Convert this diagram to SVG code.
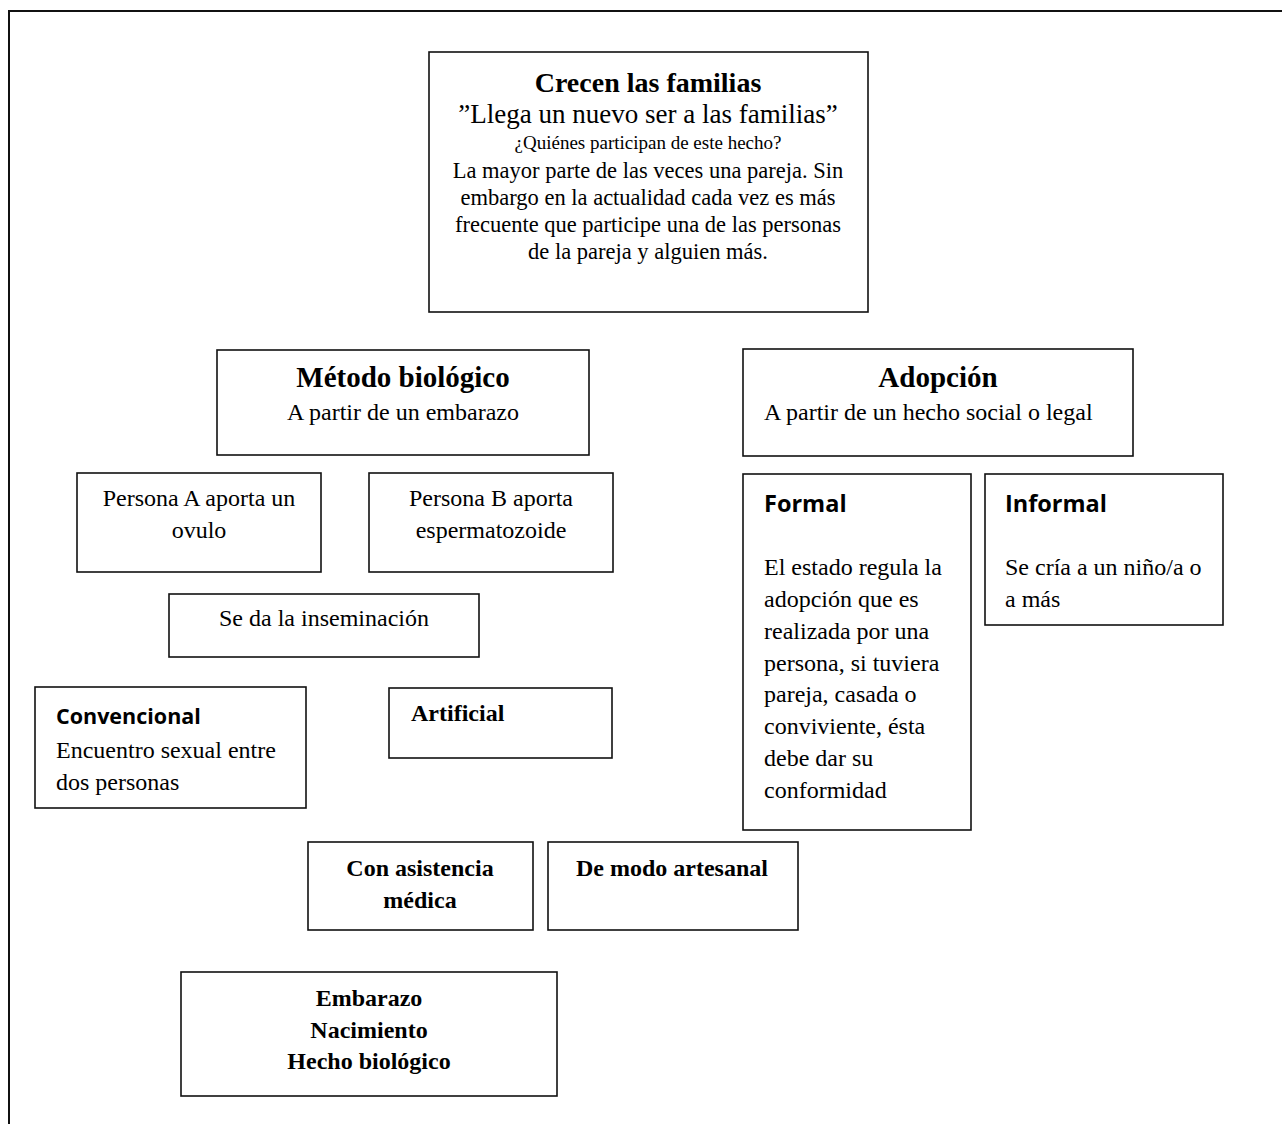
<svg xmlns="http://www.w3.org/2000/svg" width="1282" height="1124" viewBox="0 0 1282 1124">
<style>
.box{fill:#fff;stroke:#111;stroke-width:1.6}
.frame{fill:none;stroke:#111;stroke-width:2}
.t{font-family:"Liberation Serif","Times New Roman",serif;fill:#000;font-size:24px}
.b{font-weight:bold}
.c{text-anchor:middle}
.h{font-size:29px}
.top{font-size:22.5px}
.s{font-family:"Open Sans","Liberation Sans",sans-serif;font-weight:bold;fill:#000;font-size:23.5px}
</style>
<rect width="1282" height="1124" fill="#fff"/>
<g id="frame">
<path class="frame" d="M9 1124 V11 H1282"/>
</g>
<g id="connectors"></g>
<g id="n-crecen">
<rect class="box" x="429" y="52" width="439" height="260"/>
<text class="t b c" x="648" y="92" style="font-size:28px">Crecen las familias</text>
<text class="t c" x="648" y="123" style="font-size:27px">”Llega un nuevo ser a las familias”</text>
<text class="t c" x="648" y="149" style="font-size:19px">¿Quiénes participan de este hecho?</text>
<text class="t c top" x="648" y="178">La mayor parte de las veces una pareja. Sin</text>
<text class="t c top" x="648" y="205">embargo en la actualidad cada vez es más</text>
<text class="t c top" x="648" y="232">frecuente que participe una de las personas</text>
<text class="t c top" x="648" y="259">de la pareja y alguien más.</text>
</g>
<g id="n-metodo">
<rect class="box" x="217" y="350" width="372" height="105"/>
<text class="t b c h" x="403" y="387">Método biológico</text>
<text class="t c" x="403" y="420">A partir de un embarazo</text>
</g>
<g id="n-adopcion">
<rect class="box" x="743" y="349" width="390" height="107"/>
<text class="t b c h" x="938" y="387">Adopción</text>
<text class="t" x="764" y="420">A partir de un hecho social o legal</text>
</g>
<g id="n-personaA">
<rect class="box" x="77" y="473" width="244" height="99"/>
<text class="t c" x="199" y="506">Persona A aporta un</text>
<text class="t c" x="199" y="538">ovulo</text>
</g>
<g id="n-personaB">
<rect class="box" x="369" y="473" width="244" height="99"/>
<text class="t c" x="491" y="506">Persona B aporta</text>
<text class="t c" x="491" y="538">espermatozoide</text>
</g>
<g id="n-inseminacion">
<rect class="box" x="169" y="594" width="310" height="63"/>
<text class="t c" x="324" y="626">Se da la inseminación</text>
</g>
<g id="n-convencional">
<rect class="box" x="35" y="687" width="271" height="121"/>
<text class="s" x="56" y="724" style="font-size:21.5px">Convencional</text>
<text class="t" x="56" y="758">Encuentro sexual entre</text>
<text class="t" x="56" y="790">dos personas</text>
</g>
<g id="n-artificial">
<rect class="box" x="389" y="688" width="223" height="70"/>
<text class="t b" x="411" y="721">Artificial</text>
</g>
<g id="n-formal">
<rect class="box" x="743" y="474" width="228" height="356"/>
<text class="s" x="764" y="512">Formal</text>
<text class="t" x="764" y="575">El estado regula la</text>
<text class="t" x="764" y="607">adopción que es</text>
<text class="t" x="764" y="639">realizada por una</text>
<text class="t" x="764" y="671">persona, si tuviera</text>
<text class="t" x="764" y="702">pareja, casada o</text>
<text class="t" x="764" y="734">conviviente, ésta</text>
<text class="t" x="764" y="766">debe dar su</text>
<text class="t" x="764" y="798">conformidad</text>
</g>
<g id="n-informal">
<rect class="box" x="985" y="474" width="238" height="151"/>
<text class="s" x="1005" y="512">Informal</text>
<text class="t" x="1005" y="575">Se cría a un niño/a o</text>
<text class="t" x="1005" y="607">a más</text>
</g>
<g id="n-asistencia">
<rect class="box" x="308" y="842" width="225" height="88"/>
<text class="t b c" x="420" y="876">Con asistencia</text>
<text class="t b c" x="420" y="908">médica</text>
</g>
<g id="n-artesanal">
<rect class="box" x="548" y="842" width="250" height="88"/>
<text class="t b c" x="672" y="876">De modo artesanal</text>
</g>
<g id="n-embarazo">
<rect class="box" x="181" y="972" width="376" height="124"/>
<text class="t b c" x="369" y="1006">Embarazo</text>
<text class="t b c" x="369" y="1038">Nacimiento</text>
<text class="t b c" x="369" y="1069">Hecho biológico</text>
</g>
</svg>
